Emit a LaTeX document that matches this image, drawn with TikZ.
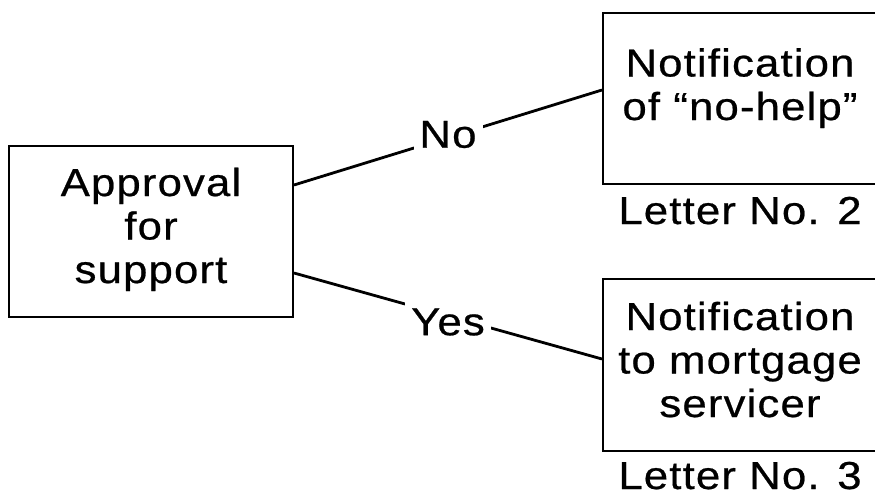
\documentclass[tikz,border=0pt]{standalone}
\usepackage{fontspec}
\setmainfont{Liberation Sans}[FakeStretch=1.12, LetterSpace=3, FakeBold=0.6]
\begin{document}
\begin{tikzpicture}[x=1pt,y=-1pt,
  box/.style={draw, line width=2pt, rectangle, inner sep=0pt},
  words/.style={align=center, font=\fontsize{39}{43.5}\selectfont, inner sep=0pt, anchor=base},
  link/.style={line width=2.8pt},
  tag/.style={font=\fontsize{39}{43.5}\selectfont, fill=white, inner sep=6pt}]
\useasboundingbox[fill=white] (0,0) rectangle (875,496);

% decision box (a multi-line node's base is its last line)
\node[box, minimum width=284pt, minimum height=171pt] (appr) at (151,231.5) {};
\node[words] (apprtxt) at (151,283) {Approval\\for\\support};

% outcome boxes (running off the right edge)
\node[box, minimum width=276pt, minimum height=171pt, anchor=north west] (nohelp) at (602,12) {};
\node[words] (nohelptxt) at (740,120) {Notification\\of “no-help”};
\node[words] (letter2) at (740,224) {Letter No. 2};

\node[box, minimum width=276pt, minimum height=172pt, anchor=north west] (servicer) at (602,278) {};
\node[words] (servicertxt) at (740,417) {Notification\\to mortgage\\servicer};
\node[words] (letter3) at (740,489) {Letter No. 3};

% branches
\draw[link] ([yshift=46.5pt]appr.east) -- node[tag, yshift=3pt] (no) {No} ([yshift=8.5pt]nohelp.west);
\draw[link] ([yshift=-41.5pt]appr.east) -- node[tag, yshift=-6pt] (yes) {Yes} ([yshift=6pt]servicer.west);
\end{tikzpicture}
\end{document}
